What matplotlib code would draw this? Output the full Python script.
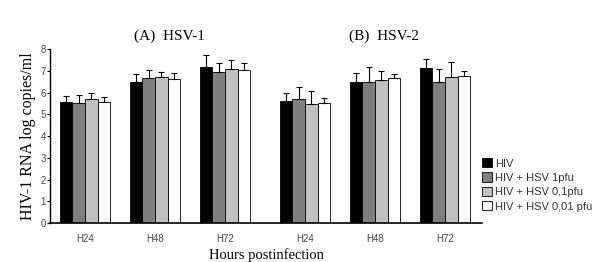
import numpy as np
import matplotlib
matplotlib.use("Agg")
import matplotlib.pyplot as plt

# data (log copies/ml, mean and upper error bar)
times = ["H24", "H48", "H72"]
series = ["HIV", "HIV + HSV 1pfu", "HIV + HSV 0,1pfu", "HIV + HSV 0,01 pfu"]
colors = ["#000000", "#7f7f7f", "#c0c0c0", "#ffffff"]

hsv1_mean = [
    [5.58, 6.49, 7.17],
    [5.55, 6.69, 6.94],
    [5.71, 6.71, 7.08],
    [5.57, 6.62, 7.03],
]
hsv1_err = [
    [0.28, 0.39, 0.55],
    [0.35, 0.37, 0.41],
    [0.29, 0.26, 0.41],
    [0.23, 0.30, 0.32],
]
hsv2_mean = [
    [5.62, 6.51, 7.15],
    [5.69, 6.51, 6.48],
    [5.48, 6.57, 6.71],
    [5.55, 6.66, 6.78],
]
hsv2_err = [
    [0.35, 0.38, 0.39],
    [0.56, 0.66, 0.60],
    [0.60, 0.45, 0.69],
    [0.19, 0.19, 0.24],
]

panels = [("(A)  HSV-1", hsv1_mean, hsv1_err, 0.282),
          ("(B)  HSV-2", hsv2_mean, hsv2_err, 0.640)]

fig = plt.figure(figsize=(6.0, 2.62), dpi=100)
ax = fig.add_axes([0.0833, 0.148, 0.72, 0.664])

width = 0.181
panel_shift = 3.143
tick_pos, tick_lab = [], []
for p, (title, mean, err, tx) in enumerate(panels):
    base = np.arange(len(times)) + p * panel_shift
    for k, name in enumerate(series):
        x = base + (k - 1.5) * width
        ax.bar(x, mean[k], width, color=colors[k], edgecolor="black",
               linewidth=0.6, label=name if p == 0 else None,
               yerr=[np.zeros(len(times)), err[k]], capsize=2.5,
               error_kw=dict(elinewidth=0.8, capthick=0.8, ecolor="black"))
    tick_pos.extend(base)
    tick_lab.extend(times)
    fig.text(tx, 0.86, title, ha="center", va="center",
             family="Liberation Serif", fontsize=11)

ax.set_xlim(-0.5, 5.67)
ax.set_ylim(0, 8)
ax.set_yticks(range(0, 9))
ax.set_xticks(tick_pos)
ax.set_xticklabels(tick_lab)
ax.tick_params(axis="x", length=0, pad=8, labelsize=7, labelcolor="#444444")
ax.tick_params(axis="y", length=2, width=0.8, pad=1, labelsize=7,
               labelcolor="#444444")
for lab in ax.get_xticklabels() + ax.get_yticklabels():
    lab.set_family("Liberation Sans")
for s in ["top", "right"]:
    ax.spines[s].set_visible(False)
ax.spines["left"].set_linewidth(1.0)
ax.spines["bottom"].set_linewidth(1.2)

ax.set_ylabel("HIV-1 RNA log copies/ml", family="Liberation Serif",
              fontsize=11.5, labelpad=3)
ax.set_xlabel("Hours postinfection", family="Liberation Serif",
              fontsize=10.5, labelpad=3)

leg = ax.legend(loc="upper left", bbox_to_anchor=(0.99, 0.40), frameon=False,
                prop={"family": "Liberation Sans", "size": 8},
                handlelength=0.9, handleheight=0.9, handletextpad=0.3,
                labelspacing=0.35, borderaxespad=0)
for t in leg.get_texts():
    t.set_color("#333333")

fig.savefig("out.png", dpi=100)
